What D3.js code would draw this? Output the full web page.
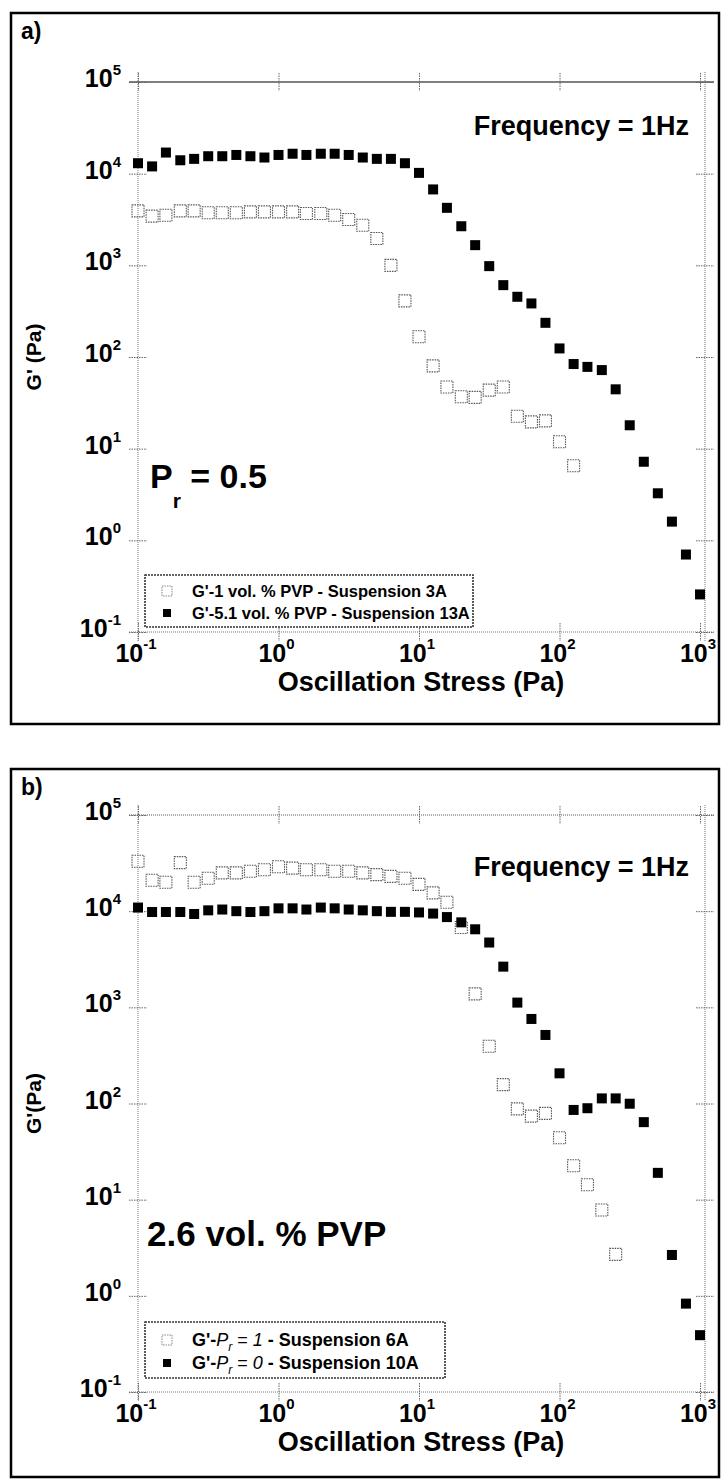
<!DOCTYPE html>
<html>
<head>
<meta charset="utf-8">
<script src="https://cdn.jsdelivr.net/npm/d3@7"></script>
<style>
  body { margin: 0; background: #fff; }
  text { font-family: "Liberation Sans", Arial, sans-serif; font-weight: bold; fill: #000; }
</style>
</head>
<body>
<svg id="chart" width="722" height="1479"></svg>
<script>
// oscillation stress steps (Pa), 10 points per decade
var stress = [0.1, 0.126, 0.158, 0.2, 0.251, 0.316, 0.398, 0.501, 0.631, 0.794,
              1, 1.26, 1.58, 2, 2.51, 3.16, 3.98, 5.01, 6.31, 7.94,
              10, 12.6, 15.8, 20, 25.1, 31.6, 39.8, 50.1, 63.1, 79.4,
              100, 126, 158, 200, 251, 316, 398, 501, 631, 794, 1000];

// panel a : G' (Pa)
var openA = [3930, 3440, 3520, 3930, 3930, 3740, 3740, 3740, 3830, 3830,
             3830, 3830, 3680, 3680, 3520, 3160, 2740, 1960, 1000, 410,
             166, 80, 47, 36.8, 36.3, 43.5, 47, 22.6, 19.6, 20.1,
             11.9, 6.5];
var fillA = [13000, 12000, 17000, 14000, 14500, 15500, 15500, 16000, 15500, 15000,
             16000, 16500, 16000, 16500, 16500, 16000, 15000, 14500, 14500, 13000,
             10200, 6730, 4240, 2670, 1660, 980, 608, 454, 384, 236,
             124, 83.8, 78, 72, 44.4, 18, 7.2, 3.26, 1.6, 0.7,
             0.257];

// panel b : G' (Pa)
var openB = [33000, 21000, 20000, 32000, 20000, 22000, 25000, 25000, 26000, 27000,
             29000, 28000, 27000, 27000, 26000, 26000, 25000, 24000, 23000, 22000,
             19000, 15500, 12400, 6760, 1380, 394, 157, 88, 74, 79,
             44, 22.5, 14.3, 7.8, 2.7];
var fillB = [10900, 9800, 9800, 9800, 9350, 10200, 10400, 10000, 9800, 10000,
             10700, 10700, 10400, 10900, 10700, 10400, 10200, 10000, 9840, 9840,
             9700, 9440, 8680, 7650, 6480, 4720, 2650, 1120, 757, 516,
             206, 85.7, 89.3, 113, 113, 99.5, 64, 19, 2.66, 0.83,
             0.39];

var xTickExp = [-1, 0, 1, 2, 3];
var yTickExp = [-1, 0, 1, 2, 3, 4, 5];

var svg = d3.select('#chart');

var x = d3.scaleLog().domain([0.1, 1085]).range([138, 705]);

var panels = [
  { tag: 'a)', boxTop: 13, boxBot: 724, top: 82, bottom: 632,
    open: openA, fill: fillA, yTitle: "G' (Pa)", topSolid: true,
    freqY: 135,
    legend: { x: 145, y: 575, w: 328, h: 52, row1: 591, row2: 613,
              t1: 597, t2: 619, size: 16.5,
              l1: [["G'-1 vol. % PVP - Suspension 3A", 'b']],
              l2: [["G'-5.1 vol. % PVP - Suspension 13A", 'b']] },
    note: 'pr', noteY: 488 },
  { tag: 'b)', boxTop: 769, boxBot: 1477, top: 815, bottom: 1392,
    open: openB, fill: fillB, yTitle: "G'(Pa)", topSolid: false,
    freqY: 876,
    legend: { x: 145, y: 1322, w: 300, h: 56, row1: 1340, row2: 1363,
              t1: 1346, t2: 1369, size: 18,
              l1: [["G'-", 'b'], ['P', 'i'], ['r', 'sub'], [' = ', 'n'], ['1', 'i'], [' - Suspension 6A', 'b']],
              l2: [["G'-", 'b'], ['P', 'i'], ['r', 'sub'], [' = ', 'n'], ['0', 'i'], [' - Suspension 10A', 'b']] },
    note: 'pvp', noteY: 1246 }
];

function tenTo(sel, e, supDy) {
  sel.append('tspan').text('10');
  sel.append('tspan').attr('dy', supDy).attr('font-size', 15).text(e);
}

function drawPanel(p) {
  var g = svg.append('g');
  var y = d3.scaleLog().domain([0.1, 1e5]).range([p.bottom, p.top]);

  // frame
  g.append('rect')
    .attr('x', 11).attr('y', p.boxTop)
    .attr('width', 708).attr('height', p.boxBot - p.boxTop)
    .attr('fill', 'none').attr('stroke', '#000').attr('stroke-width', 2.5);

  g.append('text').attr('x', 21).attr('y', p.boxTop + 26)
    .attr('font-size', 23).text(p.tag);

  // axis lines
  var dotted = function(s) {
    return s.attr('stroke', '#777').attr('stroke-width', 1).attr('stroke-dasharray', '1,1');
  };
  dotted(g.append('line').attr('x1', x(0.1)).attr('x2', x(0.1)).attr('y1', p.top - 10).attr('y2', p.bottom + 9));
  dotted(g.append('line').attr('x1', 705).attr('x2', 705).attr('y1', p.top - 10).attr('y2', p.bottom + 9));
  dotted(g.append('line').attr('x1', 129).attr('x2', 714).attr('y1', p.bottom).attr('y2', p.bottom));
  var topLine = g.append('line').attr('x1', 129).attr('x2', 714).attr('y1', p.top).attr('y2', p.top);
  if (p.topSolid) topLine.attr('stroke', '#000').attr('stroke-width', 1.2);
  else dotted(topLine).attr('stroke', '#555');

  // crossing ticks through d3 axes
  var xt = xTickExp.map(function(e) { return Math.pow(10, e); });
  var yt = yTickExp.map(function(e) { return Math.pow(10, e); });
  [p.top - 9, p.bottom - 9].forEach(function(ty) {
    g.append('g').attr('transform', 'translate(0,' + ty + ')')
      .call(d3.axisBottom(x).tickValues(xt).tickSize(18).tickFormat(''))
      .call(function(a) { a.select('.domain').remove(); });
  });
  [129, 696].forEach(function(tx) {
    g.append('g').attr('transform', 'translate(' + tx + ',0)')
      .call(d3.axisRight(y).tickValues(yt).tickSize(18).tickFormat(''))
      .call(function(a) { a.select('.domain').remove(); });
  });
  g.selectAll('.tick line').attr('stroke', '#666').attr('stroke-dasharray', '1.5,1');

  // tick labels
  xTickExp.forEach(function(e) {
    var t = g.append('text').attr('x', x(Math.pow(10, e)) - 2).attr('y', p.bottom + 30)
      .attr('font-size', 25).attr('text-anchor', 'middle');
    tenTo(t, e, -13);
  });
  yTickExp.forEach(function(e) {
    var t = g.append('text').attr('x', 121).attr('y', y(Math.pow(10, e)) + 5)
      .attr('font-size', 25).attr('text-anchor', 'end');
    tenTo(t, e, -12);
  });

  // axis titles
  g.append('text').attr('x', 421).attr('y', p.bottom + 59)
    .attr('font-size', 27).attr('text-anchor', 'middle').text('Oscillation Stress (Pa)');
  g.append('text').attr('transform', 'translate(41,' + ((p.top + p.bottom) / 2) + ') rotate(-90)')
    .attr('font-size', 21).attr('text-anchor', 'middle').text(p.yTitle);

  g.append('text').attr('x', 689).attr('y', p.freqY)
    .attr('font-size', 27).attr('text-anchor', 'end').text('Frequency = 1Hz');

  if (p.note === 'pr') {
    var n = g.append('text').attr('x', 150).attr('y', p.noteY).attr('font-size', 34);
    n.append('tspan').text('P');
    n.append('tspan').attr('font-size', 21).attr('dy', 20).text('r');
    n.append('tspan').attr('dy', -20).text(' = 0.5');
  } else {
    g.append('text').attr('x', 147).attr('y', p.noteY).attr('font-size', 35).text('2.6 vol. % PVP');
  }

  // data
  var openPts = p.open.map(function(v, i) { return [stress[i], v]; });
  var fillPts = p.fill.map(function(v, i) { return [stress[i], v]; });

  g.append('g').selectAll('rect').data(openPts).enter().append('rect')
    .attr('x', function(d) { return x(d[0]) - 6; })
    .attr('y', function(d) { return y(d[1]) - 6; })
    .attr('width', 12).attr('height', 12)
    .attr('fill', 'none').attr('stroke', '#555').attr('stroke-width', 1.1)
    .attr('stroke-dasharray', '1.5,1');

  g.append('g').selectAll('rect').data(fillPts).enter().append('rect')
    .attr('x', function(d) { return x(d[0]) - 5; })
    .attr('y', function(d) { return y(d[1]) - 5; })
    .attr('width', 10).attr('height', 10)
    .attr('fill', '#000');

  // legend
  var L = p.legend;
  g.append('rect').attr('x', L.x).attr('y', L.y).attr('width', L.w).attr('height', L.h)
    .attr('fill', '#fff').attr('stroke', '#333').attr('stroke-width', 1.6)
    .attr('stroke-dasharray', '2,1');
  g.append('rect').attr('x', L.x + 17).attr('y', L.row1 - 5).attr('width', 10).attr('height', 10)
    .attr('fill', 'none').attr('stroke', '#888').attr('stroke-dasharray', '1.5,1');
  g.append('rect').attr('x', L.x + 18).attr('y', L.row2 - 4).attr('width', 8).attr('height', 8)
    .attr('fill', '#000');

  [[L.l1, L.t1], [L.l2, L.t2]].forEach(function(row) {
    var t = g.append('text').attr('x', L.x + 47).attr('y', row[1]).attr('font-size', L.size);
    var shifted = false;
    row[0].forEach(function(part) {
      var s = t.append('tspan').text(part[0]);
      if (part[1] === 'i') s.attr('font-style', 'italic').attr('font-weight', 'normal');
      if (part[1] === 'n') s.attr('font-weight', 'normal');
      if (part[1] === 'sub') {
        s.attr('font-style', 'italic').attr('font-weight', 'normal')
          .attr('font-size', 12).attr('dy', 5);
        shifted = true;
      } else if (shifted) {
        s.attr('dy', -5);
        shifted = false;
      }
    });
  });
}

panels.forEach(drawPanel);
</script>
</body>
</html>
